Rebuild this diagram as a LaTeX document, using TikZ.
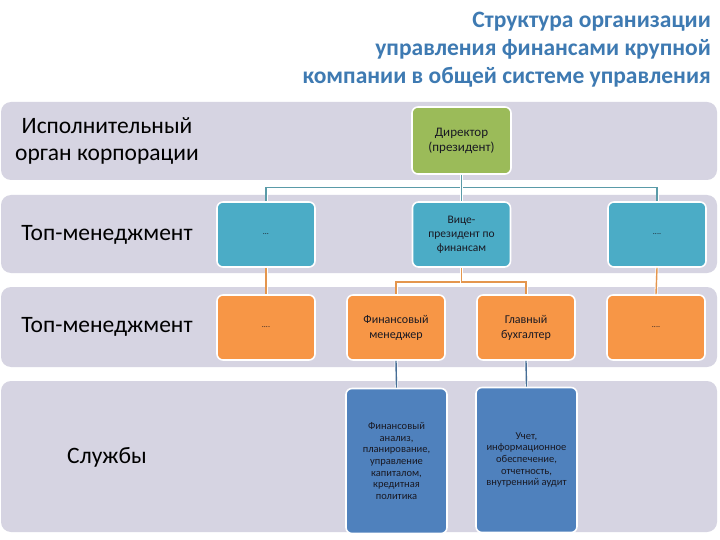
\documentclass[tikz,border=0pt]{standalone}
\usepackage{fontspec}
\setmainfont{Carlito}
\definecolor{bandgray}{RGB}{214,212,226}
\definecolor{titleblue}{RGB}{62,122,178}
\definecolor{dirgreen}{RGB}{155,187,89}
\definecolor{vpteal}{RGB}{75,172,198}
\definecolor{mgrorange}{RGB}{247,150,70}
\definecolor{svcblue}{RGB}{79,129,189}
\definecolor{lineteal}{RGB}{90,155,168}
\definecolor{lineorange}{RGB}{228,150,78}
\definecolor{lineblue}{RGB}{70,110,150}
\definecolor{nodetext}{RGB}{25,25,35}
\begin{document}
\begin{tikzpicture}[x=1pt,y=-1pt,
  band/.style={fill=bandgray, rounded corners=10pt},
  bandlabel/.style={font=\fontsize{23.5}{27}\selectfont, align=center, text=black},
  box/.style={rounded corners=6pt, draw=white, line width=1.6pt, align=center, text=nodetext, inner sep=2pt},
  dirbox/.style={box, fill=dirgreen, minimum width=99pt, minimum height=67pt, font=\fontsize{13}{15}\selectfont},
  vpbox/.style={box, fill=vpteal, minimum width=98pt, minimum height=65pt, font=\fontsize{11.5}{14}\selectfont},
  mgrbox/.style={box, fill=mgrorange, minimum width=98pt, minimum height=65pt, font=\fontsize{12}{15}\selectfont},
  svcbox/.style={box, fill=svcblue, minimum width=101pt, minimum height=145pt, font=\fontsize{10.5}{11.6}\selectfont},
  dotsfont/.style={font=\fontsize{8}{9}\selectfont},
  conn/.style={line width=1.4pt, preaction={draw=white, line width=3pt}},
  c1/.style={conn, draw=lineteal},
  c2/.style={conn, draw=lineorange},
  c3/.style={conn, draw=lineblue}
]
\useasboundingbox (0,0) rectangle (720,540);
\fill[white] (0,0) rectangle (720,540);

% bands
\fill[band] (1,102) rectangle (717,180);
\fill[band] (1,195) rectangle (717,273);
\fill[band] (1,287) rectangle (717,367);
\fill[band] (1,381) rectangle (717,532);

% title
\node[anchor=north east, align=right, text=titleblue, font=\bfseries\fontsize{23.5}{28}\selectfont, inner sep=0pt] (title) at (711,12)
  {Структура организации\\управления финансами крупной\\компании в общей системе управления};

% band labels
\node[bandlabel] (l1) at (107,141) {Исполнительный\\орган корпорации};
\node[bandlabel] (l2) at (107,235) {Топ-менеджмент};
\node[bandlabel] (l3) at (107,327) {Топ-менеджмент};
\node[bandlabel] (l4) at (107,457) {Службы};

% nodes
\node[dirbox] (dir) at (461.5,140.5) {Директор\\(президент)};
\node[vpbox, dotsfont] (r2a) at (266,234.5) {…};
\node[vpbox] (vp) at (461.5,234.5) {Вице-\\президент по\\финансам};
\node[vpbox, dotsfont] (r2c) at (657,234.5) {....};

\node[mgrbox, dotsfont] (r3a) at (266,327.5) {....};
\node[mgrbox] (fm) at (396,327.5) {Финансовый\\менеджер};
\node[mgrbox] (gb) at (526,327.5) {Главный\\бухгалтер};
\node[mgrbox, dotsfont] (r3d) at (656,327.5) {....};

\node[svcbox] (s1) at (396.5,461) {Финансовый\\анализ,\\планирование,\\управление\\капиталом,\\кредитная\\политика};
\node[svcbox] (s2) at (526.5,460) {Учет,\\информационное\\обеспечение,\\отчетность,\\внутренний аудит};

% connectors
\draw[c1] (dir.south) -- ++(0,13) -| (r2a.north);
\draw[c1] (dir.south) -- ++(0,13) -| (r2c.north);
\draw[c1] (dir.south) -- (vp.north);

\draw[c2] (r2a.south) -- (r3a.north);
\draw[c2] (vp.south) -- ++(0,14) -| (fm.north);
\draw[c2] (vp.south) -- ++(0,14) -| (gb.north);
\draw[c2] (r2c.south) -- (r3d.north);

\draw[c3] (fm.south) -- (s1.north);
\draw[c3] (gb.south) -- (s2.north);
\end{tikzpicture}
\end{document}
